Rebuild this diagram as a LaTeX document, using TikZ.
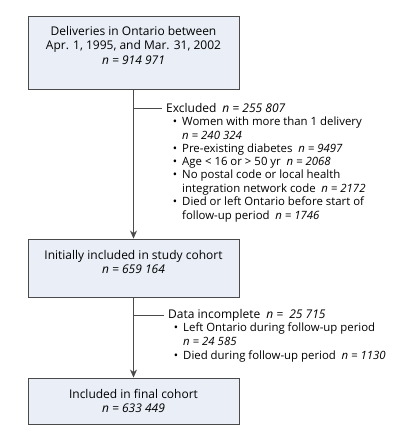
\documentclass[tikz,border=0pt]{standalone}
\usepackage{fontspec}
\setmainfont{Open Sans}
\usetikzlibrary{arrows.meta}

\definecolor{boxfill}{HTML}{E9EEF7}
\definecolor{lineg}{HTML}{4A4A4A}

\tikzset{
  stagebox/.style={draw=lineg,fill=boxfill,line width=0.9pt,minimum width=211pt,inner sep=0pt},
  stagetext/.style={align=center,font=\fontsize{12}{14.5}\selectfont,inner sep=0pt},
  sidehead/.style={anchor=west,inner xsep=4pt,inner ysep=0pt,font=\fontsize{12}{14}\selectfont},
  sideitem/.style={anchor=north west,align=left,inner sep=0pt,font=\fontsize{11.4}{13.4}\selectfont},
  flow/.style={lineg,line width=0.9pt,-{Stealth[length=8pt,width=7pt,inset=2.5pt]}},
  branch/.style={lineg,line width=0.7pt}
}
\newcommand{\nval}[1]{\textit{n = #1}}
\newcommand{\bul}{\makebox[0pt][r]{\textbullet\hspace{5pt}}}

\begin{document}
\begin{tikzpicture}[x=1pt,y=-1pt]
\useasboundingbox (0,0) rectangle (401,440);
% boxes
\node[stagebox,minimum height=73pt] (box1) at (133.5,52.5) {};
\node[stagebox,minimum height=58pt] (box2) at (133.5,268) {};
\node[stagebox,minimum height=46pt] (box3) at (133.5,401) {};
\node[stagetext] (tx1) at (133.5,45) {Deliveries in Ontario between\\Apr. 1, 1995, and Mar. 31, 2002\\\nval{914 971}};
\node[stagetext] (tx2) at (133.5,262) {Initially included in study cohort\\\nval{659 164}};
\node[stagetext] (tx3) at (133.5,401) {Included in final cohort\\\nval{633 449}};
% main arrows
\draw[flow] (box1) -- (box2);
\draw[flow] (box2) -- (box3);
% excluded
\coordinate (br1) at (134,108);
\node[sidehead] (exc) at (162,108) {Excluded\enspace\nval{255 807}};
\draw[branch] (br1) -- (exc);
\node[sideitem] (exa) at (182,117) {\bul Women with more than 1 delivery\\\nval{240 324}};
\node[sideitem] (exb) at (182,144) {\bul Pre-existing diabetes\enspace\nval{9497}};
\node[sideitem] (exc2) at (182,157) {\bul Age < 16 or > 50 yr\enspace\nval{2068}};
\node[sideitem] (exd) at (182,170) {\bul No postal code or local health\\integration network code\enspace\nval{2172}};
\node[sideitem] (exe) at (182,197) {\bul Died or left Ontario before start of\\follow-up period\enspace\nval{1746}};
% data incomplete
\coordinate (br2) at (134,315);
\node[sidehead] (inc) at (164,315) {Data incomplete\enspace\nval{ 25 715}};
\draw[branch] (br2) -- (inc);
\node[sideitem] (ina) at (183,323) {\bul Left Ontario during follow-up period\\\nval{24 585}};
\node[sideitem] (inb) at (183,351) {\bul Died during follow-up period\enspace\nval{1130}};
\end{tikzpicture}
\end{document}
